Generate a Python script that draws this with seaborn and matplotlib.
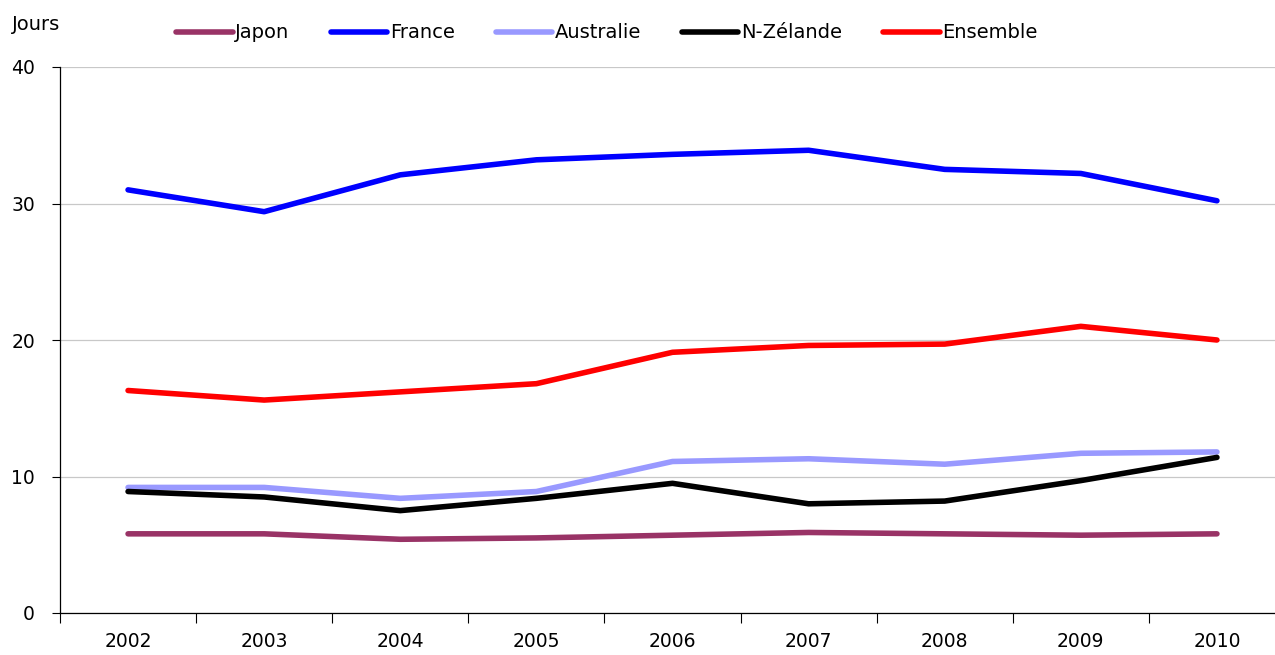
import numpy as np
import pandas as pd
import matplotlib
matplotlib.use("Agg")
from matplotlib import pyplot as plt
from matplotlib.ticker import FixedLocator
import seaborn as sns

annees = ["2002", "2003", "2004", "2005", "2006", "2007", "2008", "2009", "2010"]
japon = [5.8, 5.8, 5.4, 5.5, 5.7, 5.9, 5.8, 5.7, 5.8]
france = [31.0, 29.4, 32.1, 33.2, 33.6, 33.9, 32.5, 32.2, 30.2]
australie = [9.2, 9.2, 8.4, 8.9, 11.1, 11.3, 10.9, 11.7, 11.8]
nzelande = [8.9, 8.5, 7.5, 8.4, 9.5, 8.0, 8.2, 9.7, 11.4]
ensemble = [16.3, 15.6, 16.2, 16.8, 19.1, 19.6, 19.7, 21.0, 20.0]

series = ["Japon", "France", "Australie", "N-Zélande", "Ensemble"]
couleurs = ["#993366", "#0000FF", "#9999FF", "#000000", "#FF0000"]

df = pd.DataFrame({"Japon": japon, "France": france, "Australie": australie,
                   "N-Zélande": nzelande, "Ensemble": ensemble})
df["pos"] = np.arange(len(annees))
long = df.melt(id_vars="pos", var_name="pays", value_name="jours")

sns.set_style("white")
plt.rcParams["font.family"] = ["DejaVu Sans"]
plt.rcParams["text.color"] = "black"
plt.rcParams["xtick.color"] = "black"
plt.rcParams["ytick.color"] = "black"

fig = plt.figure(figsize=(12.75, 6.55), dpi=100)
ax = fig.add_axes([60 / 1275, 42 / 655, 1225 / 1275, 546 / 655])

sns.lineplot(data=long, x="pos", y="jours", hue="pays", hue_order=series,
             palette=couleurs, linewidth=4, legend=False, ax=ax,
             solid_capstyle="round", solid_joinstyle="round")

ax.set_xlim(-0.5, len(annees) - 0.5)
ax.set_ylim(0, 40)
ax.set_yticks([0, 10, 20, 30, 40])
ax.set_xticks(np.arange(len(annees)))
ax.set_xticklabels(annees)
ax.xaxis.set_minor_locator(FixedLocator(np.arange(-0.5, len(annees), 1.0)))
ax.tick_params(axis="x", which="major", length=0, pad=14, labelsize=13.5)
ax.tick_params(axis="x", which="minor", length=7, width=0.8, direction="out",
               bottom=True)
ax.tick_params(axis="y", length=6, width=0.8, direction="out", left=True,
               pad=12, labelsize=13.5)
ax.set_xlabel("")
ax.set_ylabel("")
ax.yaxis.grid(True, color="#c8c8c8", linewidth=0.9)
ax.set_axisbelow(True)
for s in ["top", "right"]:
    ax.spines[s].set_visible(False)
for s in ["left", "bottom"]:
    ax.spines[s].set_color("black")
    ax.spines[s].set_linewidth(0.9)

fig.text(12 / 1275, 1 - 25 / 655, "Jours", fontsize=14, va="center", ha="left")

handles = ax.get_lines()[:len(series)]
fig.legend(handles, series, loc="center", bbox_to_anchor=(607 / 1275, 1 - 33 / 655),
           ncol=5, frameon=False, fontsize=14, handlelength=2.9,
           handletextpad=0.15, columnspacing=2.1)

fig.savefig("out.png", dpi=100)
